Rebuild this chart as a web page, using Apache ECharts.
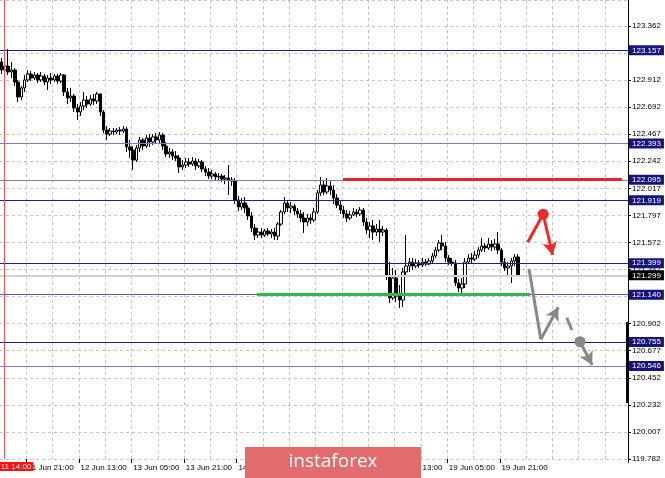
<!DOCTYPE html>
<html><head><meta charset="utf-8">
<script src="https://cdn.jsdelivr.net/npm/echarts@6/dist/echarts.min.js"></script>
<style>html,body{margin:0;padding:0;background:#fff}#c{width:665px;height:478px}</style>
</head><body><div id="c"></div>
<script>
// ---- time axis (H1 bars) ----
const sessions = [['11 Jun',13,23],['12 Jun',0,23],['13 Jun',0,23],['14 Jun',0,23],['17 Jun',0,23],['18 Jun',0,23],['19 Jun',0,23],['20 Jun',0,2]];
const totalSlots = 191;
const labelEvery = 16, labelFirst = 8, labelLast = 152, gridEvery = 8;

// ---- OHLC ----
const openP = [123.064,122.997,123.030,122.981,122.997,122.898,122.774,122.849,122.915,122.964,
122.931,122.956,122.915,122.948,122.898,122.931,122.915,122.948,122.906,122.956,
122.816,122.766,122.782,122.683,122.650,122.700,122.749,122.716,122.758,122.741,
122.799,122.650,122.501,122.468,122.493,122.485,122.501,122.493,122.510,122.361,
122.336,122.253,122.353,122.419,122.369,122.435,122.402,122.444,122.419,122.460,
122.369,122.303,122.320,122.287,122.270,122.196,122.212,122.237,122.220,122.245,
122.204,122.237,122.179,122.154,122.121,122.138,122.113,122.121,122.096,122.105,
122.088,122.080,121.923,121.865,121.898,121.857,121.791,121.691,121.633,121.658,
121.633,121.667,121.642,121.658,121.625,121.724,121.824,121.898,121.857,121.873,
121.832,121.807,121.774,121.741,121.774,121.757,121.824,121.981,122.047,121.989,
122.039,122.005,121.939,121.881,121.840,121.807,121.774,121.799,121.824,121.807,
121.840,121.741,121.675,121.708,121.658,121.683,121.658,121.675,121.303,121.113,
121.278,121.129,121.096,121.328,121.377,121.410,121.377,121.402,121.386,121.410,
121.394,121.419,121.460,121.509,121.567,121.543,121.443,121.410,121.402,121.237,
121.195,121.228,121.410,121.443,121.435,121.468,121.509,121.543,121.526,121.559,
121.534,121.559,121.509,121.410,121.361,121.377,121.419,121.452];
const closeP = [122.997,123.030,122.981,122.997,122.898,122.774,122.849,122.915,122.964,122.931,
122.956,122.915,122.948,122.898,122.931,122.915,122.948,122.906,122.956,122.816,
122.766,122.782,122.683,122.650,122.700,122.749,122.716,122.758,122.741,122.799,
122.650,122.501,122.468,122.493,122.485,122.501,122.493,122.510,122.361,122.336,
122.253,122.353,122.419,122.369,122.435,122.402,122.444,122.419,122.460,122.369,
122.303,122.320,122.287,122.270,122.196,122.212,122.237,122.220,122.245,122.204,
122.237,122.179,122.154,122.121,122.138,122.113,122.121,122.096,122.105,122.088,
122.080,121.923,121.865,121.898,121.857,121.791,121.691,121.633,121.658,121.633,
121.667,121.642,121.658,121.625,121.724,121.824,121.898,121.857,121.873,121.832,
121.807,121.774,121.741,121.774,121.757,121.824,121.981,122.047,121.989,122.039,
122.005,121.939,121.881,121.840,121.807,121.774,121.799,121.824,121.807,121.840,
121.741,121.675,121.708,121.658,121.683,121.658,121.675,121.303,121.113,121.278,
121.129,121.096,121.328,121.377,121.410,121.377,121.402,121.386,121.410,121.394,
121.419,121.460,121.509,121.567,121.543,121.443,121.410,121.402,121.237,121.195,
121.228,121.410,121.443,121.435,121.468,121.509,121.543,121.526,121.559,121.534,
121.559,121.509,121.410,121.361,121.377,121.419,121.452,121.299];
const highP = [123.097,123.080,123.171,123.064,123.014,122.915,122.865,122.956,122.997,122.989,
122.981,122.973,122.981,122.964,122.956,122.973,122.964,122.964,122.973,122.964,
122.849,122.849,122.799,122.716,122.733,122.816,122.782,122.791,122.799,122.816,
122.807,122.667,122.534,122.518,122.518,122.518,122.526,122.534,122.526,122.419,
122.369,122.377,122.444,122.435,122.460,122.468,122.468,122.477,122.485,122.477,
122.402,122.353,122.344,122.328,122.295,122.253,122.270,122.270,122.278,122.270,
122.262,122.253,122.204,122.187,122.171,122.154,122.146,122.138,122.129,122.212,
122.113,122.105,121.956,121.939,121.948,121.881,121.824,121.724,121.691,121.691,
121.683,121.691,121.683,121.691,121.741,121.840,121.948,121.923,121.906,121.890,
121.857,121.840,121.824,121.807,121.807,121.857,122.005,122.113,122.088,122.105,
122.088,122.047,121.972,121.915,121.873,121.840,121.832,121.857,121.848,121.865,
121.857,121.774,121.741,121.757,121.724,121.757,121.708,121.691,121.410,121.361,
121.344,121.220,121.361,121.633,121.443,121.443,121.435,121.427,121.443,121.435,
121.443,121.485,121.534,121.592,121.633,121.576,121.468,121.443,121.427,121.270,
121.278,121.443,121.476,121.485,121.501,121.534,121.609,121.567,121.609,121.592,
121.600,121.658,121.526,121.443,121.410,121.443,121.476,121.476];
const lowP = [122.964,122.973,122.956,122.931,122.865,122.733,122.749,122.816,122.898,122.906,
122.915,122.890,122.898,122.873,122.832,122.882,122.898,122.882,122.890,122.782,
122.716,122.733,122.650,122.584,122.617,122.667,122.683,122.700,122.708,122.716,
122.617,122.477,122.419,122.452,122.460,122.468,122.460,122.477,122.320,122.270,
122.171,122.237,122.320,122.336,122.353,122.361,122.377,122.386,122.394,122.336,
122.278,122.270,122.253,122.245,122.146,122.171,122.187,122.196,122.204,122.171,
122.187,122.154,122.121,122.096,122.096,122.088,122.080,122.072,122.055,121.964,
122.039,121.890,121.832,121.840,121.815,121.757,121.658,121.592,121.609,121.609,
121.617,121.625,121.609,121.592,121.592,121.708,121.807,121.824,121.815,121.799,
121.774,121.741,121.650,121.708,121.724,121.741,121.807,121.956,121.964,121.972,
121.964,121.890,121.857,121.807,121.774,121.741,121.757,121.791,121.782,121.791,
121.708,121.642,121.609,121.592,121.625,121.576,121.625,121.262,121.071,121.096,
121.080,121.030,121.038,121.295,121.328,121.344,121.361,121.361,121.369,121.377,
121.386,121.402,121.443,121.493,121.509,121.410,121.386,121.377,121.212,121.162,
121.154,121.195,121.394,121.402,121.419,121.443,121.493,121.493,121.509,121.501,
121.509,121.476,121.377,121.336,121.303,121.237,121.377,121.286];

// ---- price axis ----
const yMin = 119.782, yMax = 123.576, yStep = 0.22375;
const yTickLabels = ['119.782','120.007','120.232','120.452','120.677','120.902','121.122','121.347','121.572','121.797','122.017','122.242','122.467','122.692','122.912','123.137','123.362'];

// ---- levels & annotations ----
const levels = [123.157,122.393,122.095,121.919,121.399,121.140,120.755,120.546];
const levelShade = ['dark','light','light','dark','dark','mid','dark','light'];
const lastPrice = 121.299;
const resistance = {value:122.095, from:103.8, to:188.7};
const support = {value:121.140, from:77.7, to:160.7};
const markerBar = 0.8, markerText = '2019.06.11 14:00';
const redPath = [[160.0,121.573],[164.7,121.805],[167.6,121.468]];
const grayPath = [[160.4,121.352],[164.0,120.771],[169.3,121.036]];
const grayDash = [[171.9,120.950],[173.4,120.848]];
const grayTail = [[175.9,120.752],[179.6,120.559]];
const axisMark = [[190.4,120.914],[190.4,120.245]];

const categories = [];
sessions.forEach(([d,h0,h1]) => { for (let h=h0; h<=h1; h++) categories.push(d+' '+String(h).padStart(2,'0')+':00'); });
const nBars = categories.length;
for (let i=nBars; i<totalSlots; i++) categories.push('pad'+i);

const FONT = 'Liberation Sans';
const shadeColor = {dark:'#1e1e8c', mid:'#5a5ab0', light:'#7e7ec2'};
const showLabel = i => i>=labelFirst && i<=labelLast && (i-labelFirst)%labelEvery===0;

const chart = echarts.init(document.getElementById('c'), null, {renderer:'canvas'});
const candles = openP.map((o,i)=>[o, closeP[i], lowP[i], highP[i]]);

const levelItems = [
  {yAxis:lastPrice, lineStyle:{color:'#d2d2d2', width:2, type:'solid'},
   label:{show:true, position:'end', distance:1, formatter:lastPrice.toFixed(3), color:'#fff', backgroundColor:'#000', padding:[1,3,0,3], fontSize:8, fontFamily:FONT, lineHeight:9}}
];
levels.forEach((v,k)=>levelItems.push({yAxis:v, lineStyle:{color:shadeColor[levelShade[k]], width:1, type:'solid'},
   label:{show:true, position:'end', distance:1, formatter:v.toFixed(3), color:'#fff', backgroundColor:'#14147c', padding:[1,3,0,3], fontSize:8, fontFamily:FONT, lineHeight:9}}));
const seg = (a,b,color,width,endSym,type) => [
  {coord:a, symbol:'none', lineStyle:{color, width, type:type||'solid'}},
  {coord:b, symbol:endSym||'none', symbolSize:[11,13]}];
const segItems = [
  seg([markerBar,yMin],[markerBar,yMax],'#f05050',1),
  seg([resistance.from,resistance.value],[resistance.to,resistance.value],'#e8222e',3),
  seg([support.from,support.value],[support.to,support.value],'#2fb84b',3),
  seg(axisMark[0],axisMark[1],'#000',3),
  seg(redPath[0],redPath[1],'#ee2a2a',3),
  seg(redPath[1],redPath[2],'#ee2a2a',3,'arrow'),
  seg(grayPath[0],grayPath[1],'#888',3),
  seg(grayPath[1],grayPath[2],'#888',3,'arrow'),
  seg(grayDash[0],grayDash[1],'#888',3),
  seg(grayTail[0],grayTail[1],'#888',3,'arrow')
];

chart.setOption({
  animation:false,
  backgroundColor:'#fff',
  grid:{left:0, right:37, top:0, bottom:19, containLabel:false},
  xAxis:[{
    type:'category', data:categories, boundaryGap:true,
    axisLine:{show:false, onZero:false},
    axisTick:{show:true, length:4, interval:(i)=>showLabel(i), lineStyle:{color:'#000'}},
    axisLabel:{interval:(i)=>showLabel(i), align:'left', margin:5, fontSize:8, fontFamily:FONT, color:'#000'},
    splitLine:{show:true, interval:(i)=>i%gridEvery===0 && i>0, lineStyle:{color:'#c6c6c6', type:[3,3], width:1}}
  },{
    type:'value', min:-0.5, max:totalSlots-0.5, show:false, splitLine:{show:false}, axisLine:{show:false, onZero:false}
  }],
  yAxis:[{
    type:'value', position:'right', min:yMin, max:yMax, interval:yStep,
    axisLine:{show:true, onZero:false, lineStyle:{color:'#000', width:1}},
    axisTick:{show:true, length:3, lineStyle:{color:'#000'}},
    axisLabel:{margin:4, fontSize:8, fontFamily:FONT, color:'#000', showMaxLabel:false,
      formatter:(v)=>{const k=Math.round((v-yMin)/yStep); return (Math.abs(v-(yMin+k*yStep))<1e-6 && yTickLabels[k])?yTickLabels[k]:'';}},
    splitLine:{show:true, lineStyle:{color:'#c6c6c6', type:[3,3], width:1}}
  }],
  series:[{
    type:'candlestick', xAxisIndex:0, yAxisIndex:0, data:candles, barWidth:3, z:2,
    itemStyle:{color:'#fff', color0:'#000', borderColor:'#000', borderColor0:'#000', borderWidth:1},
    silent:true
  },{
    type:'line', xAxisIndex:1, yAxisIndex:0, data:[], z:3, silent:true,
    markLine:{silent:true, symbol:['none','none'], animation:false, label:{show:false}, data:levelItems.concat(segItems)},
    markPoint:{silent:true, symbol:'circle', symbolSize:11, label:{show:false}, data:[
      {coord:redPath[1], itemStyle:{color:'#ee2a2a'}},
      {coord:grayTail[0], itemStyle:{color:'#888'}}]}
  }]
});

const vx = chart.convertToPixel({xAxisIndex:1}, markerBar);
chart.setOption({graphic:[
  {type:'text', z:100, style:{text:markerText, x:vx+29, y:462, align:'right', verticalAlign:'top', fill:'#fff', backgroundColor:'#ff1010', padding:[1,2,0,3], font:'8px "'+FONT+'"'}},
  {type:'rect', z:100, shape:{x:245, y:447, width:176, height:31}, style:{fill:'#e26b6d'}},
  {type:'text', z:101, style:{text:'instaforex', x:333, y:462, align:'center', verticalAlign:'middle', fill:'#fff', font:'19px "Open Sans"'}}
]});
</script></body></html>
